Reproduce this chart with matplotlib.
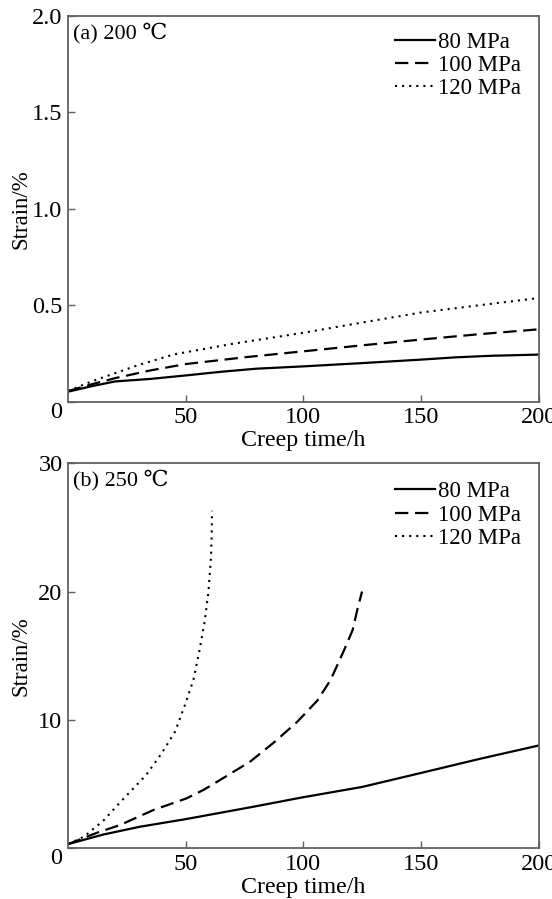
import matplotlib
matplotlib.use("Agg")
import matplotlib.pyplot as plt

plt.rcParams['font.family'] = ['Liberation Serif', 'DejaVu Serif', 'Noto Sans CJK SC']

# values, panel (a) 200 C
t_a_80 = [0, 10, 20, 35, 50, 65, 80, 100, 125, 150, 165, 180, 200]
e_a_80 = [0.052, 0.08, 0.105, 0.118, 0.136, 0.155, 0.171, 0.183, 0.20, 0.218, 0.23, 0.238, 0.244]
t_a_100 = [0, 10, 20, 35, 50, 75, 100, 125, 150, 175, 200]
e_a_100 = [0.055, 0.09, 0.122, 0.162, 0.195, 0.23, 0.261, 0.292, 0.322, 0.35, 0.375]
t_a_120 = [0, 10, 20, 30, 45, 70, 100, 125, 150, 175, 200]
e_a_120 = [0.055, 0.105, 0.148, 0.19, 0.245, 0.30, 0.357, 0.41, 0.462, 0.50, 0.537]

# panel (b) 250 C
t_b_80 = [0, 15, 30.6, 50, 77.4, 100, 125, 150, 175, 200]
e_b_80 = [0.3, 1.05, 1.66, 2.25, 3.17, 3.96, 4.76, 5.85, 6.95, 7.99]
t_b_100 = [0, 12.5, 22.1, 36.3, 50.4, 57.5, 64.6, 77.4, 88, 97.5, 106, 111.6, 117.3, 121, 123, 125]
e_b_100 = [0.3, 1.2, 1.79, 2.96, 3.87, 4.52, 5.3, 6.73, 8.3, 9.85, 11.5, 13.1, 15.4, 17.0, 18.6, 20.0]
t_b_120 = [0, 6.8, 15.3, 22.1, 33.2, 39.8, 45.5, 49.7, 53.3, 56.1, 58.2, 59.7, 60.8, 61.1, 61.2]
e_b_120 = [0.3, 0.88, 2.18, 3.55, 5.69, 7.38, 9.07, 11.15, 13.1, 15.6, 17.8, 20.0, 22.7, 24.5, 26.3]

labels = ["80 MPa", "100 MPa", "120 MPa"]
styles = ['-', (0, (6, 3)), (0, (1, 2.4))]
widths = [1.6, 1.6, 1.5]

W, H = 552, 899
fig = plt.figure(figsize=(W / 100, H / 100), dpi=100)
frame_col = '#606060'


def setup(ax, ylim, yticks, yticklabels, panel, leg_top):
    h_px = ax.get_position().height * H
    ax.set_xlim(0, 200)
    ax.set_ylim(*ylim)
    ax.set_xticks([50, 100, 150, 200])
    ax.set_xticklabels(['50', '100', '150', '200'])
    ax.set_yticks(yticks)
    ax.set_yticklabels(yticklabels)
    ax.tick_params(direction='in', length=5, width=1, color=frame_col,
                   labelsize=17.5, pad=4)
    ax.get_yticklabels()[0].set_va('top')
    for s in ax.spines.values():
        s.set_color(frame_col)
        s.set_linewidth(1.3)
    ax.set_xlabel("Creep time/h", fontsize=17.3)
    ax.xaxis.set_label_coords(0.5, -39 / h_px)
    ax.xaxis.label.set_va('center')
    ax.set_ylabel("Strain/%", fontsize=16.5)
    ax.yaxis.set_label_coords(-47 / 470.5, 0.5)
    ax.yaxis.label.set_va('center')
    ax.text(5 / 470.5, 1 - 17 / h_px, panel, transform=ax.transAxes,
            fontsize=16, ha='left', va='center')
    ax.legend(loc='upper left', frameon=False, fontsize=16.5,
              handlelength=1.75, handletextpad=0.13, labelspacing=0.1,
              borderpad=0, borderaxespad=0,
              bbox_to_anchor=(0.695, 1 - leg_top / h_px))


ax1 = fig.add_axes([68 / W, 1 - 401.7 / H, 470.5 / W, 386 / H])
ax1.plot(t_a_80, e_a_80, ls=styles[0], color='black', lw=widths[0], label=labels[0])
ax1.plot(t_a_100, e_a_100, ls=styles[1], color='black', lw=widths[1], label=labels[1])
ax1.plot(t_a_120, e_a_120, ls=styles[2], color='black', lw=widths[2], label=labels[2])
setup(ax1, (0, 2.0), [0, 0.5, 1.0, 1.5, 2.0], ['0', '0.5', '1.0', '1.5', '2.0'],
      "(a) 200 ℃", 16)

ax2 = fig.add_axes([68 / W, 1 - 848 / H, 470.5 / W, 384.7 / H])
ax2.plot(t_b_80, e_b_80, ls=styles[0], color='black', lw=widths[0], label=labels[0])
ax2.plot(t_b_100, e_b_100, ls=styles[1], color='black', lw=widths[1], label=labels[1])
ax2.plot(t_b_120, e_b_120, ls=styles[2], color='black', lw=widths[2], label=labels[2])
setup(ax2, (0, 30), [0, 10, 20, 30], ['0', '10', '20', '30'], "(b) 250 ℃", 18)

fig.savefig("out.png", dpi=100)
